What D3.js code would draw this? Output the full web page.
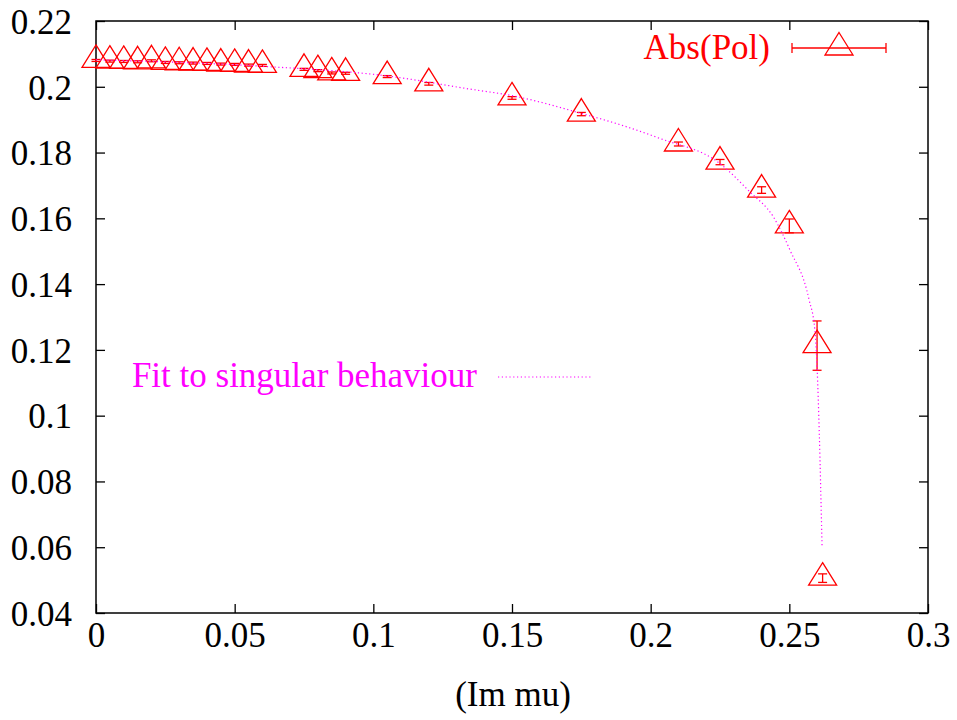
<!DOCTYPE html>
<html><head><meta charset="utf-8">
<script src="https://cdn.jsdelivr.net/npm/d3@7"></script>
<style>
svg text { font-family: "Liberation Serif" !important; }
</style>
</head>
<body style="margin:0;background:#fff">
<svg id="chart" width="957" height="720" font-family="Liberation Serif"></svg>
<script>
// ---- data ----
const imMu = [0,0.005,0.01,0.015,0.02,0.025,0.03,0.035,0.04,0.045,0.05,0.055,0.06,
  0.075,0.08,0.085,0.09,0.105,0.12,0.15,0.175,0.21,0.225,0.24,0.25,0.26,0.262];
const absPol = [0.2080,0.2078,0.2077,0.2076,0.2079,0.2074,0.2073,0.2072,0.2071,0.2069,0.2068,0.2066,0.2065,
  0.2053,0.2049,0.2042,0.2041,0.2031,0.2009,0.1966,0.1917,0.1826,0.1771,0.1686,0.1577,0.1213,0.0506];
const absPolErr = [0.0003,0.0003,0.0003,0.0003,0.0003,0.0003,0.0003,0.0003,0.0003,0.0003,0.0003,0.0003,0.0003,
  0.0003,0.0003,0.0003,0.0003,0.0003,0.0004,0.0004,0.0005,0.0006,0.0008,0.0010,0.0021,0.0075,0.0013];
const fitX = [0,0.0627,0.105,0.1348,0.15,0.175,0.19,0.2033,0.2249,0.2357,0.2442,0.2502,0.2571,0.2592,0.2600,0.2608,0.2618];
const fitY = [0.2082,0.2061,0.2033,0.1993,0.1973,0.1919,0.1882,0.1843,0.1767,0.1681,0.1605,0.1504,0.1353,0.1261,0.1149,0.0947,0.0602];
const xTicks = [0,0.05,0.1,0.15,0.2,0.25,0.3];
const xTickLabels = ["0","0.05","0.1","0.15","0.2","0.25","0.3"];
const yTicks = [0.04,0.06,0.08,0.1,0.12,0.14,0.16,0.18,0.2,0.22];
const yTickLabels = ["0.04","0.06","0.08","0.1","0.12","0.14","0.16","0.18","0.2","0.22"];
const xLabel = "(Im mu)";
const dataName = "Abs(Pol)";
const fitName = "Fit to singular behaviour";

// ---- layout ----
const L = 96, R = 928, T = 21, B = 613;
const svg = d3.select("#chart");
const x = d3.scaleLinear().domain([0,0.3]).range([L,R]);
const y = d3.scaleLinear().domain([0.04,0.22]).range([B,T]);
const fs = 35, tickLen = 9;
const red = "#ff0000", mag = "#ff00ff";

function txt(sel){
  return sel.attr("font-family","Liberation Serif").attr("font-size",fs)
    .style("font-family","\"Liberation Serif\"","important").style("font-size",fs+"px");
}

// axes (inward ticks on all four sides)
const gB = svg.append("g").attr("transform",`translate(0,${B})`)
  .call(d3.axisBottom(x).tickValues(xTicks).tickSize(-tickLen).tickPadding(22)
    .tickFormat((d,i)=>xTickLabels[i]));
const gT = svg.append("g").attr("transform",`translate(0,${T})`)
  .call(d3.axisTop(x).tickValues(xTicks).tickSize(-tickLen).tickFormat(""));
const gL = svg.append("g").attr("transform",`translate(${L},0)`)
  .call(d3.axisLeft(y).tickValues(yTicks).tickSize(-tickLen).tickPadding(24)
    .tickFormat((d,i)=>yTickLabels[i]));
const gR = svg.append("g").attr("transform",`translate(${R},0)`)
  .call(d3.axisRight(y).tickValues(yTicks).tickSize(-tickLen).tickFormat(""));
[gB,gT,gL,gR].forEach(g=>{
  g.attr("font-family","Liberation Serif").attr("font-size",fs);
  g.select(".domain").remove();
  g.selectAll(".tick line").attr("stroke","#000").attr("stroke-width",1.3);
  txt(g.selectAll(".tick text")).attr("fill","#000");
});
gB.selectAll(".tick text").attr("dy","0.35em");
gL.selectAll(".tick text").attr("dy","0.35em");

svg.append("rect").attr("x",L).attr("y",T).attr("width",R-L).attr("height",B-T)
  .attr("fill","none").attr("stroke","#000").attr("stroke-width",1.5);

txt(svg.append("text")).attr("x",513).attr("y",706).attr("text-anchor","middle").text(xLabel);

// triangle path centred at centroid
const tri = (cx,cy)=>`M${cx},${cy-15.5}L${cx+14},${cy+7}L${cx-14},${cy+7}Z`;

// data points
const pts = svg.append("g");
imMu.forEach((v,i)=>{
  const cx = x(v), cy = y(absPol[i]);
  const y1 = y(absPol[i]+absPolErr[i]), y2 = y(absPol[i]-absPolErr[i]);
  const g = pts.append("g").attr("stroke",red).attr("stroke-width",1.3).attr("fill","none");
  g.append("line").attr("x1",cx).attr("x2",cx).attr("y1",y1).attr("y2",y2);
  g.append("line").attr("x1",cx-4.5).attr("x2",cx+4.5).attr("y1",y1).attr("y2",y1);
  g.append("line").attr("x1",cx-4.5).attr("x2",cx+4.5).attr("y1",y2).attr("y2",y2);
  g.append("path").attr("d",tri(cx,cy));
});

// fit curve
const line = d3.line().x((d,i)=>x(fitX[i])).y((d,i)=>y(fitY[i])).curve(d3.curveMonotoneX);
svg.append("path").datum(fitX).attr("d",line).attr("fill","none")
  .attr("stroke",mag).attr("stroke-width",1.2).attr("stroke-dasharray","1.2,2.6");

// legend: data
txt(svg.append("text")).attr("x",770).attr("y",59).attr("text-anchor","end")
  .attr("fill",red).text(dataName);
const lg = svg.append("g").attr("stroke",red).attr("stroke-width",1.3).attr("fill","none");
lg.append("line").attr("x1",792).attr("x2",886).attr("y1",48).attr("y2",48);
lg.append("line").attr("x1",792).attr("x2",792).attr("y1",43).attr("y2",53);
lg.append("line").attr("x1",886).attr("x2",886).attr("y1",43).attr("y2",53);
lg.append("path").attr("d",tri(839,48));

// legend: fit
txt(svg.append("text")).attr("x",477).attr("y",387).attr("text-anchor","end")
  .attr("fill",mag).text(fitName);
svg.append("line").attr("x1",498).attr("x2",592).attr("y1",377).attr("y2",377)
  .attr("stroke",mag).attr("stroke-width",1.2).attr("stroke-dasharray","1.2,2.6");
</script>
</body></html>
